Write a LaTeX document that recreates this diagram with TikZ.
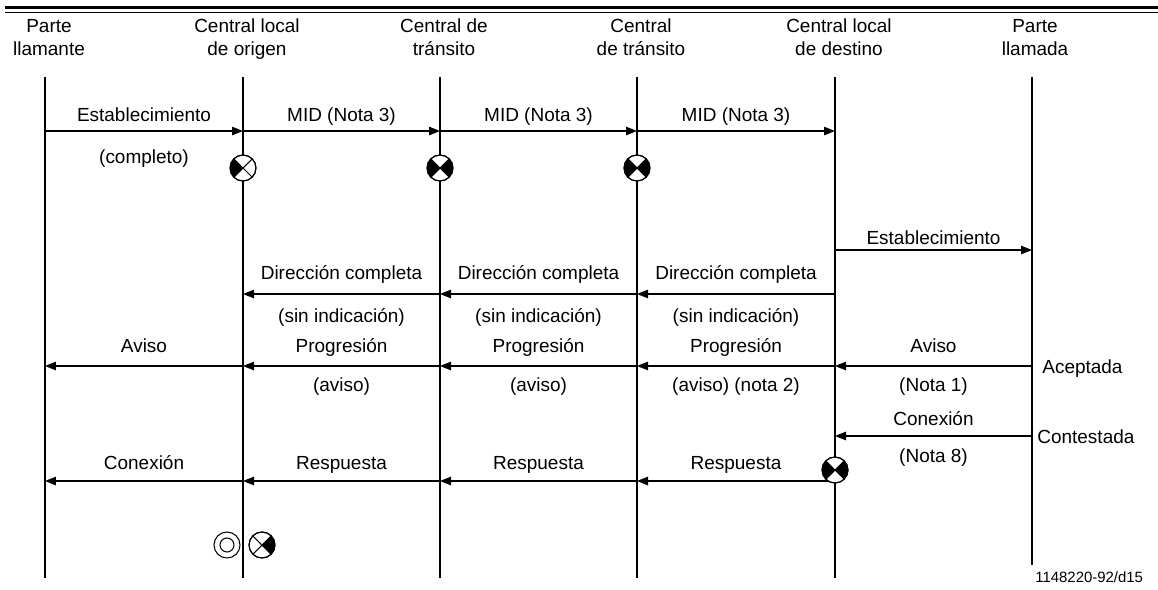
\documentclass[tikz,border=0pt]{standalone}
\usepackage{fontspec}
\setmainfont{Liberation Sans}
\usetikzlibrary{arrows.meta}

\tikzset{
	life/.style={line width=0.6pt},
	msg/.style={line width=0.6pt,-{Triangle[length=0.22cm,width=0.17cm]}},
	upper/.style={midway,anchor=base,yshift=#1},
	upper/.default=0.2cm,
	lower/.style={midway,anchor=base,yshift=#1},
	lower/.default=-0.66cm,
	head/.style={align=center,anchor=base},
	side/.style={anchor=base west,inner sep=0pt},
	sym/.style={draw,circle,fill=white,minimum size=0.52cm,inner sep=0pt,outer sep=0pt,line width=0.6pt}
}
% circle with cross, quadrants given by start angle are filled
\newcommand{\quadcirc}[3]{%
	\node[sym] (#1) at (#2) {};
	\foreach \a in {#3}
		\fill (#1.center) -- (#1.\a) arc[start angle=\a,delta angle=90,radius=0.26cm] -- cycle;
	\draw[line width=0.6pt] (#1.45) -- (#1.225) (#1.135) -- (#1.315);
	\draw[line width=0.6pt] (#1.center) circle (0.26cm);
}

\begin{document}
\begin{tikzpicture}[x=0.02cm,y=-0.02cm,font=\fontsize{10.8}{13}\selectfont]
		\useasboundingbox (0,0) rectangle (1158,589);
		%Rule on top
			\draw[line width=1.7pt] (5,7.5) -- (1158,7.5);
			\draw[line width=0.8pt] (5,12.5) -- (1158,12.5);
		%Lifelines
			\foreach \n/\x in {1/45,2/243,3/440,4/637,5/835,6/1032}
			{
				\coordinate (l\n) at (\x,77);
				\coordinate (e\n) at (\x,578);
			}
			\coordinate (e6) at (1032,565);
			\foreach \n in {1,...,6}
				\draw[life] (l\n) -- (e\n);
		%Rows of messages
			\foreach \n/\y in {1/131,2/250,3/294,4/366,5/436,6/481}
				\coordinate (r\n) at (0,\y);
		%Headers (base = last line)
			\node[head] (h1) at (49,55) {Parte\\llamante};
			\node[head] (h2) at (247,55) {Central local\\de origen};
			\node[head] (h3) at (444,55) {Central de\\tránsito};
			\node[head] (h4) at (641,55) {Central\\de tránsito};
			\node[head] (h5) at (839,55) {Central local\\de destino};
			\node[head] (h6) at (1035,55) {Parte\\llamada};
		%Set-up
			\draw[msg] (l1 |- r1) -- (l2 |- r1) node[upper] (est1) {Establecimiento} node[lower] (comp) {(completo)};
			\foreach \a/\b in {2/3,3/4,4/5}
				\draw[msg] (l\a |- r1) -- (l\b |- r1) node[upper] (mid\a) {MID (Nota 3)};
			\draw[msg] (l5 |- r2) -- (l6 |- r2) node[upper=0.12cm] (est2) {Establecimiento};
		%Address complete
			\foreach \a/\b in {5/4,4/3,3/2}
				\draw[msg] (l\a |- r3) -- (l\b |- r3) node[upper=0.3cm] (dir\a) {Dirección completa} node[lower=-0.56cm] (sin\a) {(sin indicación)};
		%Alerting
			\draw[msg] (l6 |- r4) -- (l5 |- r4) node[upper=0.28cm] (avi1) {Aviso} node[lower=-0.5cm] (nota1) {(Nota 1)};
			\draw[msg] (l5 |- r4) -- (l4 |- r4) node[upper=0.28cm] (pro5) {Progresión} node[lower=-0.5cm] (nota2) {(aviso) (nota 2)};
			\foreach \a/\b in {4/3,3/2}
				\draw[msg] (l\a |- r4) -- (l\b |- r4) node[upper=0.28cm] (pro\a) {Progresión} node[lower=-0.5cm] (avi\a) {(aviso)};
			\draw[msg] (l2 |- r4) -- (l1 |- r4) node[upper=0.28cm] (avi2) {Aviso};
			\node[side] (acep) at (1042,373) {Aceptada};
		%Answer
			\draw[msg] (l6 |- r5) -- (l5 |- r5) node[upper=0.22cm] (con1) {Conexión} node[lower=-0.52cm] (nota8) {(Nota 8)};
			\node[side] (cont) at (1037,443) {Contestada};
			\foreach \a/\b in {5/4,4/3,3/2}
				\draw[msg] (l\a |- r6) -- (l\b |- r6) node[upper=0.24cm] (res\a) {Respuesta};
			\draw[msg] (l2 |- r6) -- (l1 |- r6) node[upper=0.24cm] (con2) {Conexión};
		%Symbols
			\quadcirc{o1}{243,168}{135}
			\quadcirc{t1}{440,168}{135,315}
			\quadcirc{t2}{637,168}{135,315}
			\quadcirc{d1}{835,470}{135,315}
			\quadcirc{o2}{262,545}{315}
			\node[sym] (o3) at (227,545) {};
			\draw[line width=0.6pt] (o3.center) circle (0.14cm);
		%Figure number
			\node[side,font=\fontsize{8.5}{10}\selectfont] (fig) at (1035,582) {1148220-92/d15};
	\end{tikzpicture}
\end{document}
